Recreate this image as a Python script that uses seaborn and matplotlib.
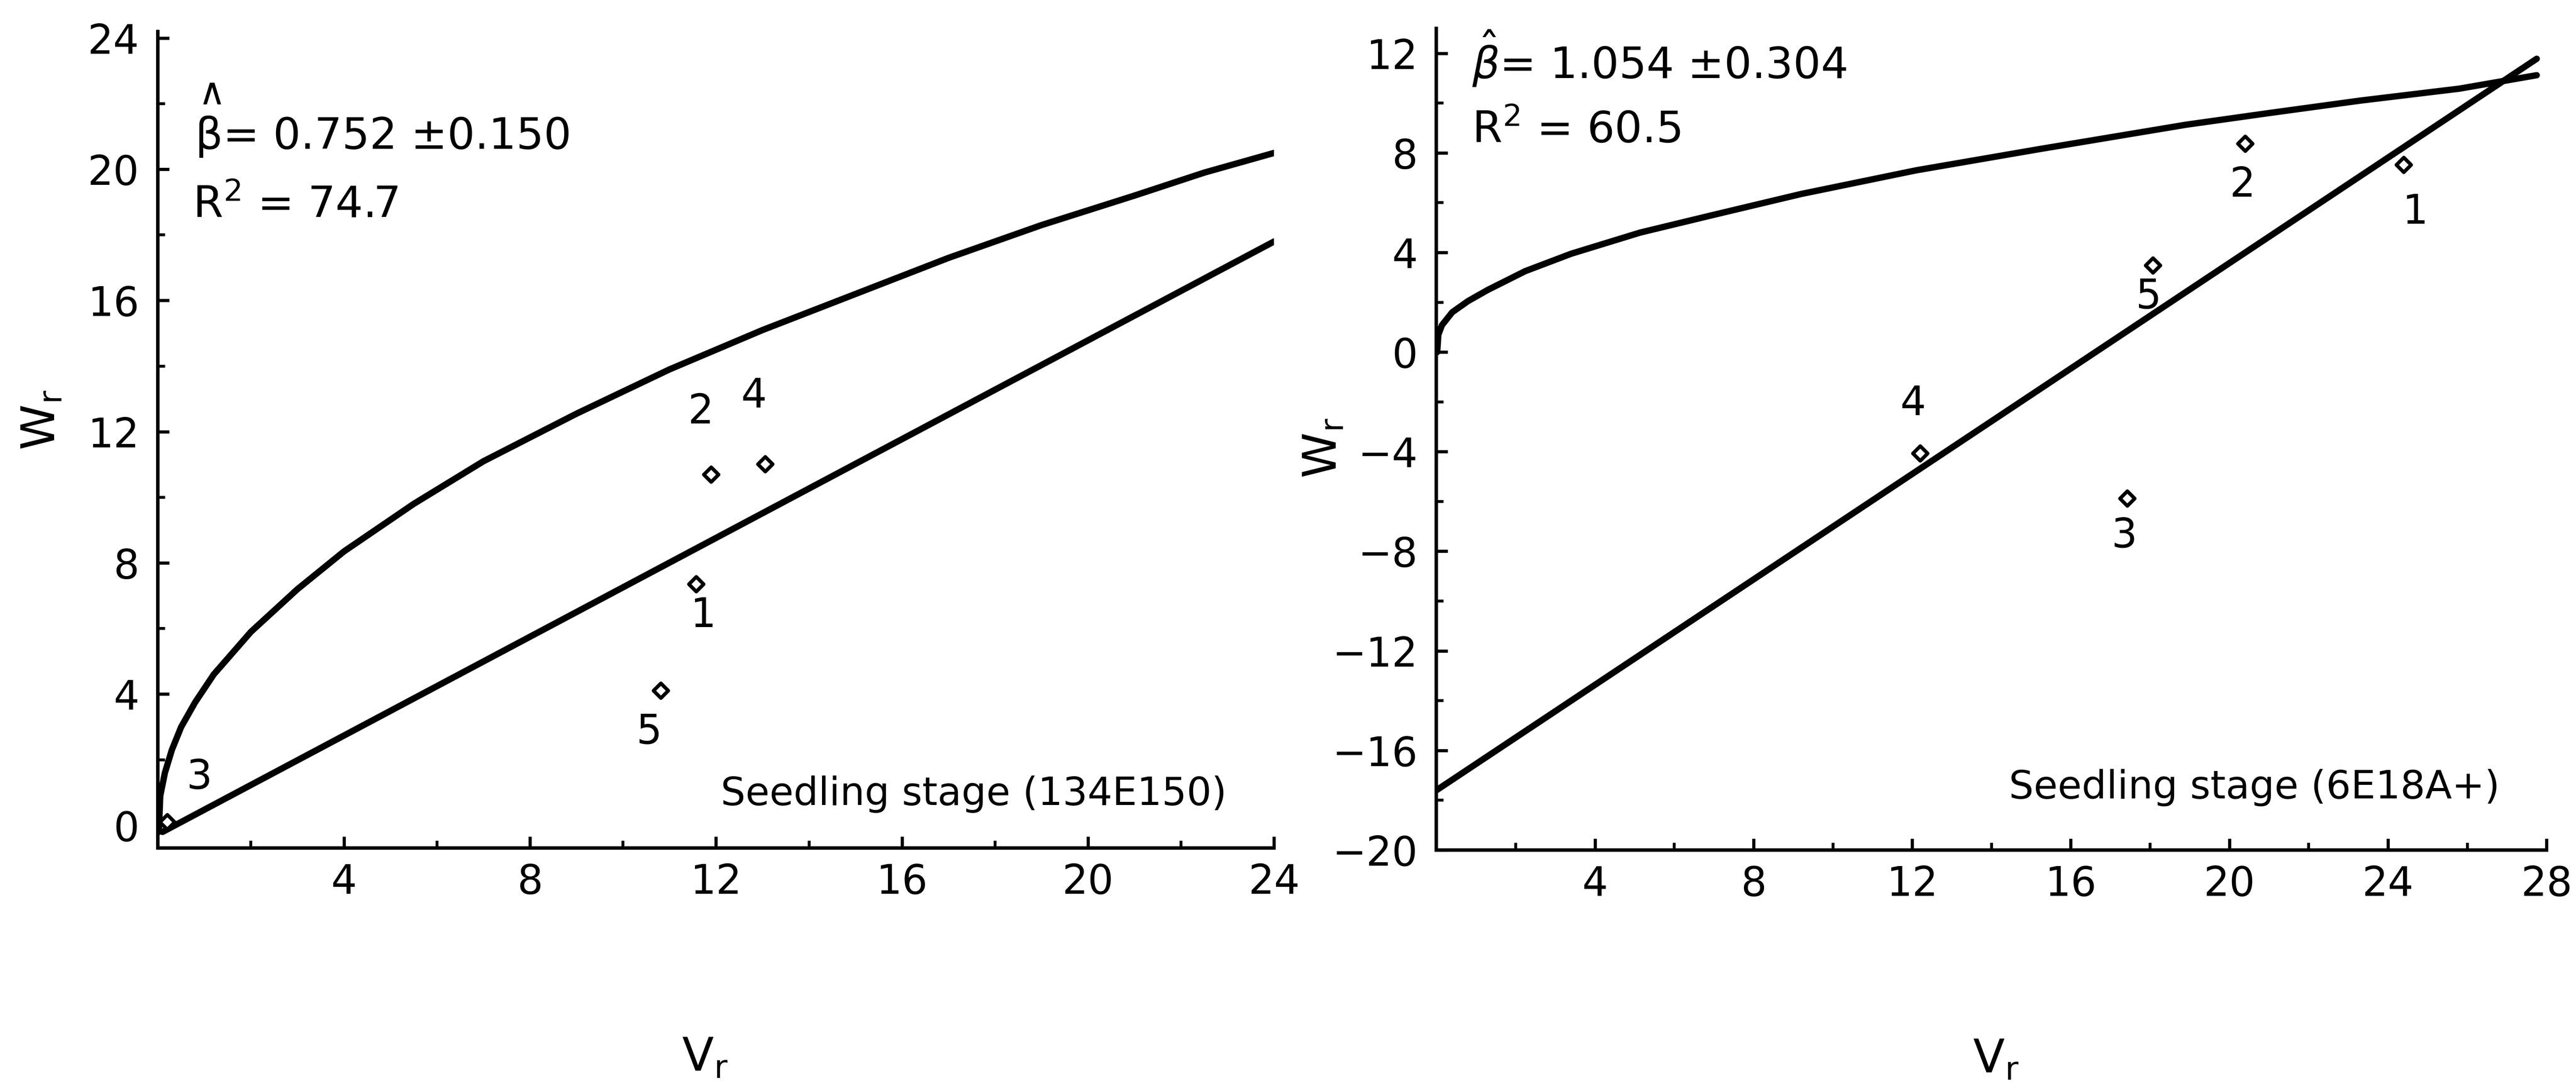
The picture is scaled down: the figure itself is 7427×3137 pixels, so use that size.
import seaborn as sns
import matplotlib.pyplot as plt
from matplotlib.ticker import MultipleLocator

# Left panel: Seedling stage (134E150)
left_curve_vr = [0.02, 0.05, 0.15, 0.3, 0.5, 0.8, 1.2, 2, 3, 4, 5.5, 7, 9, 11, 13, 15, 17, 19, 21, 22.5, 24]
left_curve_wr = [-0.2, 0.9, 1.6, 2.3, 3.0, 3.75, 4.6, 5.9, 7.2, 8.35, 9.8, 11.1, 12.55, 13.9, 15.1, 16.2, 17.3, 18.3, 19.2, 19.9, 20.5]
left_line_vr = [0.1, 24]
left_line_wr = [-0.2, 17.8]
left_arrays = ['1', '2', '3', '4', '5']
left_vr = [11.57, 11.89, 0.2, 13.06, 10.81]
left_wr = [7.36, 10.70, 0.1, 11.01, 4.11]
left_stats = ['0.752 ±0.150', '74.7']

# Right panel: Seedling stage (6E18A+)
right_curve_vr = [0.02, 0.05, 0.14, 0.4, 0.8, 1.3, 2.24, 3.4, 5.14, 6.96, 9.2, 12.1, 15.2, 18.9, 21.0, 23.3, 25.8, 27.75]
right_curve_wr = [0.0, 0.7, 1.08, 1.6, 2.05, 2.5, 3.25, 3.95, 4.8, 5.5, 6.35, 7.3, 8.15, 9.13, 9.6, 10.1, 10.58, 11.12]
right_line_vr = [0, 27.75]
right_line_wr = [-17.6, 11.78]
right_arrays = ['1', '2', '3', '4', '5']
right_vr = [24.39, 20.40, 17.42, 12.2, 18.07]
right_wr = [7.53, 8.38, -5.88, -4.06, 3.48]
right_stats = ['1.054 ±0.304', '60.5']

sns.set_theme(style='ticks')
plt.rcParams['font.family'] = ['DejaVu Sans']
plt.rcParams['mathtext.fontset'] = 'dejavusans'
for key in ['text.color', 'axes.labelcolor', 'xtick.color', 'ytick.color', 'axes.edgecolor']:
    plt.rcParams[key] = 'black'

fig = plt.figure(figsize=(7427 / 300, 3137 / 300), dpi=300)
ax1 = fig.add_axes([0.0613, 0.2206, 0.4333, 0.7504])
ax2 = fig.add_axes([0.5576, 0.2187, 0.4310, 0.7552])


def draw_panel(ax, cvr, cwr, lvr, lwr, vr, wr, names, offsets):
    sns.lineplot(x=cvr, y=cwr, ax=ax, sort=False, estimator=None, color='black', lw=4.4)
    sns.lineplot(x=lvr, y=lwr, ax=ax, sort=False, estimator=None, color='black', lw=4.4)
    sns.scatterplot(x=vr, y=wr, ax=ax, marker='D', s=52, color='white',
                    edgecolor='black', linewidth=2.5, zorder=4)
    for n, x, y in zip(names, vr, wr):
        ax.annotate(n, (x, y), xytext=offsets[n], textcoords='offset points',
                    ha='center', va='center', fontsize=28)
    for side in ['top', 'right']:
        ax.spines[side].set_visible(False)
    for side in ['left', 'bottom']:
        ax.spines[side].set_linewidth(2.4)
    ax.xaxis.set_minor_locator(MultipleLocator(2))
    ax.yaxis.set_minor_locator(MultipleLocator(2))
    ax.tick_params(which='major', direction='in', length=8, width=2.2, labelsize=28)
    ax.tick_params(which='minor', direction='in', length=5, width=2.0)
    ax.tick_params(axis='y', pad=13)
    ax.tick_params(axis='x', pad=10)


# Left panel
draw_panel(ax1, left_curve_vr, left_curve_wr, left_line_vr, left_line_wr,
           left_vr, left_wr, left_arrays,
           {'1': (5, -22), '2': (-7, 43), '3': (22, 31), '4': (-8, 47), '5': (-8, -29)})
ax1.set_xlim(0, 24)
ax1.set_ylim(-0.69, 24.2)
ax1.set_xticks([4, 8, 12, 16, 20, 24])
ax1.set_yticks([0, 4, 8, 12, 16, 20, 24])
ax1.text(1.16, 22.3, '∧', fontsize=26, ha='center', va='center')
ax1.text(0.8, 21.0, 'β= ' + left_stats[0], fontsize=30, ha='left', va='center')
ax1.text(0.75, 18.9, r'R$^2$ = ' + left_stats[1], fontsize=30, ha='left', va='center')
ax1.text(12.1, 0.95, 'Seedling stage (134E150)', fontsize=27, ha='left', va='center')
ax1.set_xlabel(r'V$_\mathrm{r}$', fontsize=32, va='center', ha='center')
ax1.set_ylabel(r'W$_\mathrm{r}$', fontsize=32, va='center', ha='center')
ax1.xaxis.set_label_coords(0.49, -0.257)
ax1.yaxis.set_label_coords(-0.104, 0.524)

# Right panel
draw_panel(ax2, right_curve_vr, right_curve_wr, right_line_vr, right_line_wr,
           right_vr, right_wr, right_arrays,
           {'1': (8, -33), '2': (-2, -29), '3': (-2, -26), '4': (-5, 34), '5': (-3, -22)})
ax2.set_xlim(0, 28)
ax2.set_ylim(-20, 13)
ax2.set_xticks([4, 8, 12, 16, 20, 24, 28])
ax2.set_yticks([-20, -16, -12, -8, -4, 0, 4, 8, 12])
ax2.text(0.9, 11.8, r'$\hat{\beta}$= ' + right_stats[0], fontsize=30, ha='left', va='center')
ax2.text(0.9, 8.9, r'R$^2$ = ' + right_stats[1], fontsize=30, ha='left', va='center')
ax2.text(14.44, -17.5, 'Seedling stage (6E18A+)', fontsize=27, ha='left', va='center')
ax2.set_xlabel(r'V$_\mathrm{r}$', fontsize=32, va='center', ha='center')
ax2.set_ylabel(r'W$_\mathrm{r}$', fontsize=32, va='center', ha='center')
ax2.xaxis.set_label_coords(0.504, -0.255)
ax2.yaxis.set_label_coords(-0.102, 0.489)

fig.savefig('out.png', dpi=300, facecolor='white')
